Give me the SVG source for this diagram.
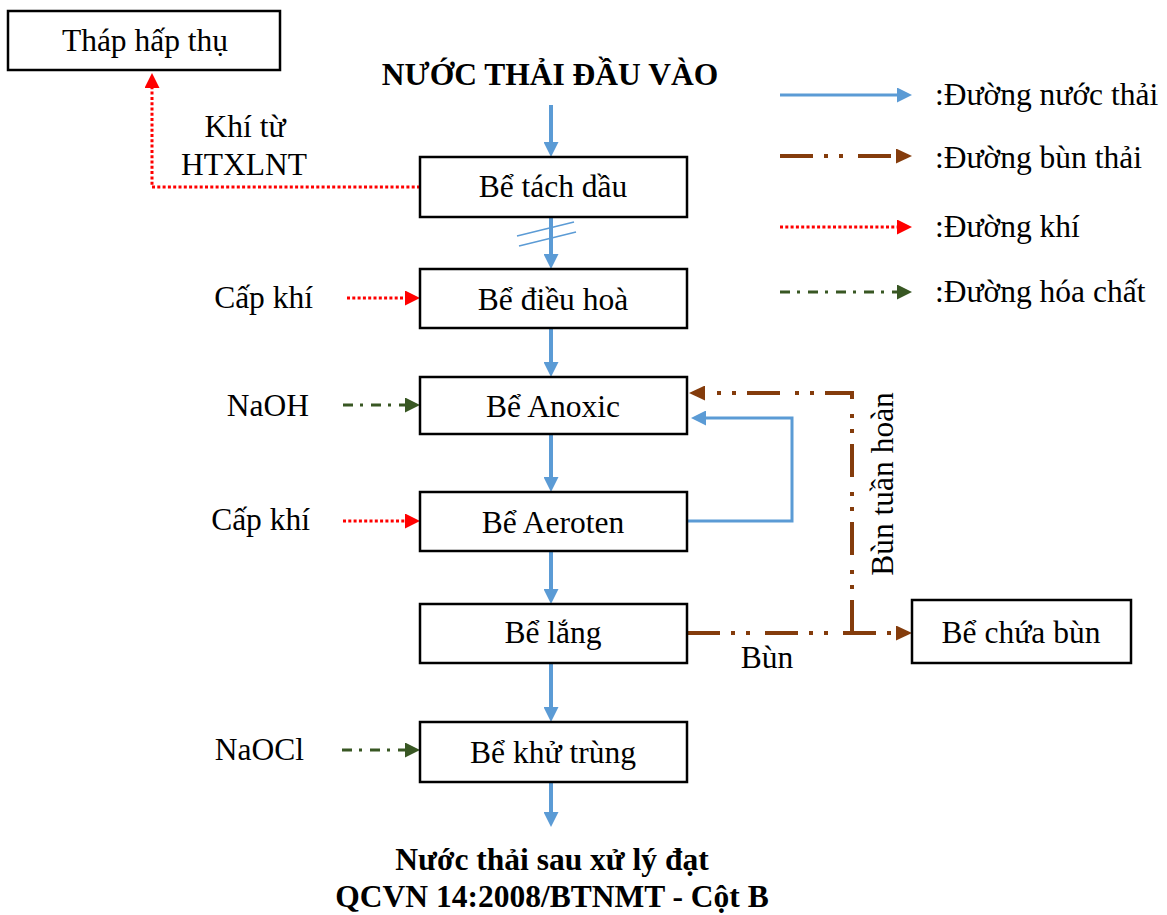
<svg xmlns="http://www.w3.org/2000/svg" width="1167" height="915" viewBox="0 0 1167 915">
  <style>
    text { font-family: "Liberation Serif", "Times New Roman", serif; font-size: 31.5px; fill: #000; }
    .c { text-anchor: middle; }
    .e { text-anchor: end; }
    .b { font-weight: bold; }
    .box { fill: #fff; stroke: #000; stroke-width: 2.5; }
    .water { fill: none; stroke: #5b9bd5; stroke-width: 4; }
    .water3 { fill: none; stroke: #5b9bd5; stroke-width: 3; }
    .sludge { fill: none; stroke: #843c0c; stroke-width: 4; stroke-dasharray: 33 11 4 11 4 15; }
    .gas { fill: none; stroke: #ff0000; stroke-width: 3; stroke-dasharray: 3 2.3; }
    .chem { fill: none; stroke: #385723; stroke-width: 3; stroke-dasharray: 10 7 3 8; }
  </style>
  <defs>
    <marker id="hBlue" markerUnits="userSpaceOnUse" markerWidth="15" markerHeight="15" refX="0" refY="7.5" orient="auto">
      <path d="M0,0 L15,7.5 L0,15 z" fill="#5b9bd5"/>
    </marker>
    <marker id="hBrown" markerUnits="userSpaceOnUse" markerWidth="16" markerHeight="15" refX="0" refY="7.5" orient="auto">
      <path d="M0,0 L16,7.5 L0,15 z" fill="#843c0c"/>
    </marker>
    <marker id="hRed" markerUnits="userSpaceOnUse" markerWidth="15" markerHeight="15" refX="0" refY="7.5" orient="auto">
      <path d="M0,0 L15,7.5 L0,15 z" fill="#ff0000"/>
    </marker>
    <marker id="hGreen" markerUnits="userSpaceOnUse" markerWidth="15" markerHeight="15" refX="0" refY="7.5" orient="auto">
      <path d="M0,0 L15,7.5 L0,15 z" fill="#385723"/>
    </marker>
  </defs>

  <rect width="1167" height="915" fill="#fff"/>

  <!-- connectors -->
  <g id="connectors">
    <!-- main water flow -->
    <path class="water" d="M551,105 V142" marker-end="url(#hBlue)"/>
    <path class="water" d="M551,217 V254" marker-end="url(#hBlue)"/>
    <line x1="517" y1="236" x2="574" y2="222" stroke="#5b9bd5" stroke-width="1.5"/>
    <line x1="519" y1="246" x2="576" y2="232" stroke="#5b9bd5" stroke-width="1.5"/>
    <path class="water" d="M551,328 V362" marker-end="url(#hBlue)"/>
    <path class="water" d="M551,434 V477" marker-end="url(#hBlue)"/>
    <path class="water" d="M551,551 V589" marker-end="url(#hBlue)"/>
    <path class="water" d="M551,663 V707" marker-end="url(#hBlue)"/>
    <path class="water" d="M551,782 V812" marker-end="url(#hBlue)"/>
    <!-- internal recycle Aeroten -> Anoxic -->
    <path class="water3" d="M687,521 H792 V418 H706" marker-end="url(#hBlue)"/>
    <!-- sludge lines -->
    <path class="sludge" d="M687,633 H896" marker-end="url(#hBrown)"/>
    <path class="sludge" d="M852,633 V393 H705" marker-end="url(#hBrown)"/>
    <!-- gas lines -->
    <path class="gas" d="M420,187 H152 V88" marker-end="url(#hRed)"/>
    <path class="gas" d="M347,298 H405" marker-end="url(#hRed)"/>
    <path class="gas" d="M343,521 H405" marker-end="url(#hRed)"/>
    <!-- chemical dosing -->
    <path class="chem" d="M343,405 H405" marker-end="url(#hGreen)"/>
    <path class="chem" d="M342,750 H405" marker-end="url(#hGreen)"/>
  </g>

  <!-- process units -->
  <g id="thap-hap-thu">
    <rect class="box" x="8" y="11" width="272" height="59"/>
    <text class="c" x="145" y="51">Tháp hấp thụ</text>
  </g>
  <g id="be-tach-dau">
    <rect class="box" x="420" y="157" width="267" height="60"/>
    <text class="c" x="553" y="197">Bể tách dầu</text>
  </g>
  <g id="be-dieu-hoa">
    <rect class="box" x="420" y="269" width="267" height="59"/>
    <text class="c" x="553" y="310">Bể điều hoà</text>
  </g>
  <g id="be-anoxic">
    <rect class="box" x="420" y="377" width="267" height="57"/>
    <text class="c" x="553" y="417">Bể Anoxic</text>
  </g>
  <g id="be-aeroten">
    <rect class="box" x="420" y="492" width="267" height="59"/>
    <text class="c" x="553" y="533">Bể Aeroten</text>
  </g>
  <g id="be-lang">
    <rect class="box" x="420" y="604" width="267" height="59"/>
    <text class="c" x="553" y="643">Bể lắng</text>
  </g>
  <g id="be-khu-trung">
    <rect class="box" x="420" y="722" width="267" height="60"/>
    <text class="c" x="553" y="763">Bể khử trùng</text>
  </g>
  <g id="be-chua-bun">
    <rect class="box" x="912" y="600" width="219" height="63"/>
    <text class="c" x="1021" y="643">Bể chứa bùn</text>
  </g>

  <!-- labels -->
  <g id="labels">
    <text class="c b" x="550" y="85">NƯỚC THẢI ĐẦU VÀO</text>
    <text class="c" x="245" y="137">Khí từ</text>
    <text class="c" x="244" y="175">HTXLNT</text>
    <text class="e" x="313" y="308">Cấp khí</text>
    <text class="e" x="309" y="416">NaOH</text>
    <text class="e" x="310" y="530">Cấp khí</text>
    <text class="e" x="304" y="760">NaOCl</text>
    <text class="c" x="767" y="668">Bùn</text>
    <text class="c" transform="translate(893,484) rotate(-90)">Bùn tuần hoàn</text>
    <text class="c b" x="552" y="870">Nước thải sau xử lý đạt</text>
    <text class="c b" x="552" y="907">QCVN 14:2008/BTNMT - Cột B</text>
  </g>

  <!-- legend -->
  <g id="legend">
    <path class="water3" d="M780,95 H897" marker-end="url(#hBlue)"/>
    <text x="935" y="105">:Đường nước thải</text>
    <path class="sludge" d="M780,156 H896" marker-end="url(#hBrown)"/>
    <text x="935" y="168">:Đường bùn thải</text>
    <path class="gas" d="M780,227 H897" marker-end="url(#hRed)"/>
    <text x="935" y="237">:Đường khí</text>
    <path class="chem" d="M780,292 H897" marker-end="url(#hGreen)"/>
    <text x="935" y="302">:Đường hóa chất</text>
  </g>
</svg>
